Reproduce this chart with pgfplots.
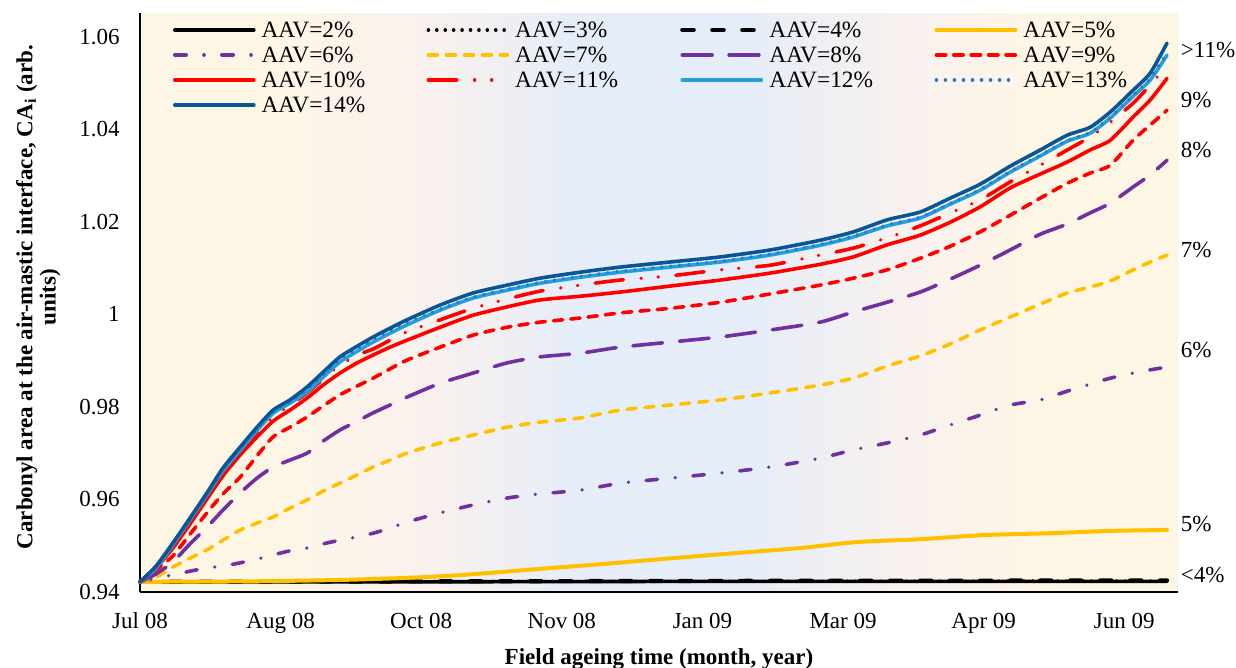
\documentclass[border=0pt]{standalone}
\usepackage{fontspec}
\setmainfont{Liberation Serif}
\usepackage{pgfplots}
\pgfplotsset{compat=1.18}
\usepackage{pgfplotstable}
\definecolor{cream}{RGB}{254,246,228}
\definecolor{pinkc}{RGB}{249,241,238}
\definecolor{bluec}{RGB}{229,237,248}
\definecolor{purp}{RGB}{112,48,160}
\definecolor{gold}{RGB}{255,192,0}
\definecolor{lblue}{RGB}{35,160,220}
\definecolor{mblue}{RGB}{40,120,208}
\definecolor{dblue}{RGB}{10,85,150}
\pgfdeclarehorizontalshading{bgshade}{100bp}{color(0bp)=(cream); color(31bp)=(cream); color(39bp)=(pinkc); color(46bp)=(bluec); color(54bp)=(bluec); color(62bp)=(pinkc); color(69bp)=(cream); color(100bp)=(cream)}
\tikzset{L/.style={line width=1.8bp, line cap=round, line join=round}}

\pgfplotstableread{
d a6 a7 a8 a9 a10 a11 a12 a13 a14
0 0.9422 0.9422 0.9422 0.9422 0.9422 0.9422 0.9422 0.9422 0.9422
5.7 0.9430 0.9432 0.9439 0.9448 0.9452 0.9454 0.9452 0.9454 0.9456
11.7 0.9437 0.9454 0.9465 0.9478 0.9495 0.9502 0.9502 0.9504 0.9506
17.8 0.9445 0.9473 0.9504 0.9525 0.9547 0.9553 0.9556 0.9558 0.9560
23.8 0.9452 0.9491 0.9540 0.9571 0.9601 0.9605 0.9610 0.9612 0.9614
29.5 0.9456 0.9512 0.9577 0.9612 0.9651 0.9657 0.9662 0.9664 0.9668
35.6 0.9463 0.9534 0.9614 0.9648 0.9696 0.9702 0.9706 0.9709 0.9713
41.6 0.9471 0.9549 0.9646 0.9694 0.9735 0.9743 0.9749 0.9752 0.9756
47.3 0.9480 0.9562 0.9670 0.9735 0.9769 0.9778 0.9786 0.9789 0.9793
53.3 0.9489 0.9581 0.9685 0.9756 0.9793 0.9804 0.9808 0.9811 0.9815
59.4 0.9495 0.9599 0.9700 0.9778 0.9819 0.9830 0.9832 0.9837 0.9843
65.1 0.9504 0.9618 0.9726 0.9802 0.9847 0.9860 0.9864 0.9869 0.9875
71.1 0.9512 0.9635 0.9750 0.9826 0.9873 0.9890 0.9897 0.9902 0.9908
77.2 0.9519 0.9653 0.9769 0.9845 0.9895 0.9912 0.9920 0.9925 0.9931
82.9 0.9527 0.9670 0.9787 0.9862 0.9912 0.9925 0.9940 0.9945 0.9951
88.9 0.9538 0.9685 0.9804 0.9882 0.9929 0.9944 0.9959 0.9964 0.9970
94.9 0.9551 0.9700 0.9821 0.9901 0.9944 0.9962 0.9977 0.9982 0.9988
106.7 0.9571 0.9722 0.9851 0.9929 0.9972 0.9988 1.0009 1.0011 1.0020
118.4 0.9588 0.9739 0.9873 0.9955 0.9998 1.0013 1.0035 1.0037 1.0046
130.5 0.9603 0.9756 0.9895 0.9972 1.0016 1.0033 1.0052 1.0054 1.0063
142.2 0.9612 0.9767 0.9908 0.9983 1.0031 1.0050 1.0067 1.0069 1.0078
156.5 0.9620 0.9776 0.9916 0.9992 1.0039 1.0063 1.0080 1.0082 1.0091
170.7 0.9635 0.9793 0.9929 1.0003 1.0048 1.0074 1.0091 1.0093 1.0102
188.5 0.9646 0.9804 0.9940 1.0013 1.0061 1.0083 1.0102 1.0104 1.0113
206.3 0.9657 0.9815 0.9951 1.0026 1.0074 1.0096 1.0113 1.0115 1.0124
224.0 0.9670 0.9830 0.9966 1.0044 1.0089 1.0106 1.0128 1.0130 1.0139
241.8 0.9689 0.9847 0.9983 1.0063 1.0108 1.0128 1.0149 1.0151 1.0160
253.6 0.9707 0.9862 1.0005 1.0078 1.0124 1.0143 1.0167 1.0169 1.0178
265.6 0.9722 0.9888 1.0026 1.0096 1.0150 1.0165 1.0191 1.0193 1.0204
277.4 0.9739 0.9910 1.0048 1.0121 1.0171 1.0191 1.0208 1.0210 1.0221
288.1 0.9761 0.9936 1.0076 1.0147 1.0199 1.0219 1.0238 1.0240 1.0251
298.7 0.9782 0.9966 1.0106 1.0178 1.0232 1.0247 1.0268 1.0270 1.0281
309.4 0.9804 0.9994 1.0139 1.0214 1.0273 1.0286 1.0307 1.0309 1.0320
320.1 0.9815 1.0022 1.0173 1.0251 1.0303 1.0322 1.0342 1.0344 1.0355
329.7 0.9834 1.0046 1.0195 1.0283 1.0329 1.0355 1.0374 1.0376 1.0387
337.8 0.9849 1.0059 1.0219 1.0305 1.0355 1.0383 1.0391 1.0393 1.0404
345.0 0.9862 1.0072 1.0240 1.0322 1.0376 1.0415 1.0424 1.0426 1.0437
353.1 0.9873 1.0096 1.0275 1.0376 1.0426 1.0456 1.0471 1.0473 1.0484
359.2 0.9880 1.0113 1.0301 1.0409 1.0463 1.0495 1.0506 1.0510 1.0521
365.2 0.9886 1.0128 1.0333 1.0441 1.0510 1.0538 1.0560 1.0566 1.0586
}\curves

\begin{document}
\begin{tikzpicture}
\path[use as bounding box] (0,0) rectangle (618bp,334bp);
\begin{axis}[
  at={(70bp,38bp)}, anchor=south west,
  scale only axis, width=519bp, height=289.25bp,
  xmin=0, xmax=369.1, ymin=0.94, ymax=1.065,
  clip=false,
  axis x line*=bottom, axis y line*=left,
  axis line style={-, line width=1.1bp, black},
  major tick length=0pt,
  xtick={0,50,100,150,200,250,300,350},
  xticklabels={Jul 08,Aug 08,Oct 08,Nov 08,Jan 09,Mar 09,Apr 09,Jun 09},
  ytick={0.94,0.96,0.98,1,1.02,1.04,1.06},
  yticklabels={0.94,0.96,0.98,1,1.02,1.04,1.06},
  xticklabel style={anchor=base, yshift=-18.4bp, inner sep=0pt, font=\fontsize{11.5bp}{13bp}\selectfont},
  yticklabel style={anchor=east, xshift=-10bp, inner sep=0pt, font=\fontsize{11.5bp}{13bp}\selectfont},
  axis background/.style={shade, shading=bgshade},
  xlabel={Field ageing time (month, year)},
  ylabel={Carbonyl area at the air-mastic interface, CA\textsubscript{i} (arb.\\units)},
  xlabel style={at={(axis description cs:0.5,0)}, anchor=base, yshift=-36bp, inner sep=0pt, font=\bfseries\fontsize{11.5bp}{13bp}\selectfont},
  ylabel style={at={(axis description cs:-0.0979,0.51)}, anchor=center, align=center, inner sep=0pt, font=\bfseries\fontsize{11.5bp}{11.7bp}\selectfont},
  legend columns=4,
  legend cell align=left,
  legend style={at={(axis description cs:0,1)}, anchor=north west, xshift=16.5bp, yshift=-4.4bp,
    draw=none, fill=none, inner sep=0pt, outer sep=0pt, column sep=0pt, row sep=4.8bp,
    font=\fontsize{11.7bp}{13bp}\selectfont,
    nodes={inner xsep=3bp, inner ysep=0pt, text width=79.5bp, text height=7.7bp, text depth=0pt, align=left}},
  legend image code/.code={\draw[#1] (0bp,0bp) -- (39.5bp,0bp);},
]
\addplot[L, black] coordinates {(0,0.9422) (100,0.9422) (200,0.9423) (365.2,0.9423)};
\addlegendentry{AAV=2\%}
\addplot[L, black, dash pattern=on 0.01bp off 4.2bp] coordinates {(0,0.9422) (100,0.9423) (200,0.9423) (365.2,0.9424)};
\addlegendentry{AAV=3\%}
\addplot[L, black, line width=2.1bp, dash pattern=on 5.7bp off 9.3bp] coordinates {(0,0.9422) (100,0.9423) (200,0.9424) (365.2,0.9425)};
\addlegendentry{AAV=4\%}
\addplot[L, gold, line width=2bp, smooth, tension=0.4] coordinates {(0,0.9422) (39.1,0.9423) (71.1,0.9426) (92.5,0.9430) (110.2,0.9435) (128.0,0.9443) (142.2,0.9450) (163.6,0.9460) (199.1,0.9478) (234.7,0.9495) (255.0,0.9508) (277.4,0.9514) (300.1,0.9523) (323.6,0.9527) (345.0,0.9532) (365.2,0.9534)};
\addlegendentry{AAV=5\%}
\addplot[L, purp, smooth, tension=0.4, dash pattern=on 5.7bp off 8.9bp on 0.01bp off 8.9bp] table[x=d,y=a6]{\curves};
\addlegendentry{AAV=6\%}
\addplot[L, gold, smooth, tension=0.4, dash pattern=on 4.5bp off 4.5bp] table[x=d,y=a7]{\curves};
\addlegendentry{AAV=7\%}
\addplot[L, purp, smooth, tension=0.4, dash pattern=on 14.9bp off 8.5bp] table[x=d,y=a8]{\curves};
\addlegendentry{AAV=8\%}
\addplot[L, red, smooth, tension=0.4, dash pattern=on 4.7bp off 4bp] table[x=d,y=a9]{\curves};
\addlegendentry{AAV=9\%}
\addplot[L, red, smooth, tension=0.4] table[x=d,y=a10]{\curves};
\addlegendentry{AAV=10\%}
\addplot[L, red, smooth, tension=0.4, dash pattern=on 14.2bp off 8.9bp on 0.01bp off 8.5bp on 0.01bp off 8.9bp] table[x=d,y=a11]{\curves};
\addlegendentry{AAV=11\%}
\addplot[L, lblue, smooth, tension=0.4] table[x=d,y=a12]{\curves};
\addlegendentry{AAV=12\%}
\addplot[L, mblue, smooth, tension=0.4, dash pattern=on 0.01bp off 4.5bp] table[x=d,y=a13]{\curves};
\addlegendentry{AAV=13\%}
\addplot[L, dblue, smooth, tension=0.4] table[x=d,y=a14]{\curves};
\addlegendentry{AAV=14\%}
\begin{scope}[every node/.style={anchor=west, inner sep=0pt, font=\fontsize{11.5bp}{13bp}\selectfont}]
\node at (axis cs:370,1.0571) {>11\%};
\node at (axis cs:370,1.0463) {9\%};
\node at (axis cs:370,1.0355) {8\%};
\node at (axis cs:370,1.0139) {7\%};
\node at (axis cs:370,0.9923) {6\%};
\node at (axis cs:370,0.9547) {5\%};
\node at (axis cs:370,0.9437) {<4\%};
\end{scope}
\end{axis}
\end{tikzpicture}
\end{document}
